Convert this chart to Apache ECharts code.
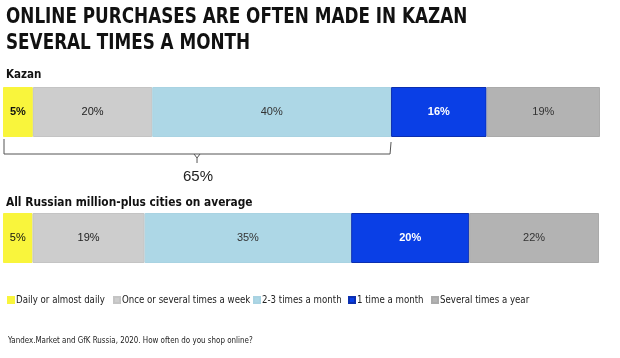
<!DOCTYPE html>
<html><head><meta charset="utf-8">
<script src="https://cdn.jsdelivr.net/npm/echarts@6/dist/echarts.min.js"></script>
<style>html,body{margin:0;padding:0;background:#fff}#c{width:620px;height:358px}</style>
</head><body><div id="c"></div>
<script>
var titleLines = ['ONLINE PURCHASES ARE OFTEN MADE IN KAZAN', 'SEVERAL TIMES A MONTH'];
var groups = ['Kazan', 'All Russian million-plus cities on average'];
var seriesNames = ['Daily or almost daily', 'Once or several times a week', '2-3 times a month', '1 time a month', 'Several times a year'];
var kazanValues = [5, 20, 40, 16, 19];
var russiaValues = [5, 19, 35, 20, 22];
var braceCount = 3; // first three categories summed under the brace
var footnote = 'Yandex.Market and GfK Russia, 2020. How often do you shop online?';

var colors = ['#f9f53c', '#cdcdcd', '#add7e6', '#0a3fe6', '#b3b3b3'];
var borderColors = ['#f9f53c', '#c4c4c4', '#a9d3e2', '#0b2fb0', '#aaaaaa'];
var labelColors = ['#111', '#222', '#333', '#fff', '#333'];
var legendLefts = [7, 113, 253, 348, 431];
var narrow = '"DejaVu Sans Condensed", "Liberation Sans", sans-serif';
var arial = '"Liberation Sans", Arial, sans-serif';

var chart = echarts.init(document.getElementById('c'), null, {renderer: 'canvas'});

var datasets = [kazanValues, russiaValues];
var series = [];
datasets.forEach(function (vals, gi) {
  vals.forEach(function (v, i) {
    series.push({
      name: seriesNames[i],
      type: 'bar',
      stack: 'g' + gi,
      xAxisIndex: gi,
      yAxisIndex: gi,
      barWidth: '100%',
      data: [v],
      itemStyle: {color: colors[i], borderColor: borderColors[i], borderWidth: 1},
      label: {
        show: true, position: 'inside', formatter: '{c}%',
        color: labelColors[i], fontFamily: arial, fontSize: 11,
        fontWeight: (i === 3 || (gi === 0 && i === 0)) ? 'bold' : 'normal'
      },
      emphasis: {disabled: true},
      animation: false
    });
  });
});

function sum(a) { return a.reduce(function (s, x) { return s + x; }, 0); }

var legends = seriesNames.map(function (n, i) {
  return {
    data: [n], left: legendLefts[i], top: 295, padding: 0, itemWidth: 6, itemHeight: 6,
    icon: 'rect', selectedMode: false,
    textStyle: {fontFamily: narrow, fontSize: 9.6, color: '#222', padding: [0, 0, 0, -3]}
  };
});

var option = {
  animation: false,
  legend: legends,
  grid: [
    {left: 3, right: 20, top: 87, height: 50},
    {left: 3, right: 21, top: 213, height: 50}
  ],
  xAxis: [
    {type: 'value', gridIndex: 0, min: 0, max: sum(kazanValues), show: false},
    {type: 'value', gridIndex: 1, min: 0, max: sum(russiaValues), show: false}
  ],
  yAxis: [
    {type: 'category', gridIndex: 0, data: [groups[0]], show: false},
    {type: 'category', gridIndex: 1, data: [groups[1]], show: false}
  ],
  series: series
};
chart.setOption(option);

// brace under the first three Kazan segments
var braceVal = sum(kazanValues.slice(0, braceCount));
var p0 = chart.convertToPixel({gridIndex: 0}, [0, 0]);
var p1 = chart.convertToPixel({gridIndex: 0}, [braceVal, 0]);
var x0 = p0[0] + 1, x1 = p1[0] - 1, xc = (x0 + x1) / 2;
var yTop = 142, yLine = 154;
var lineStyle = {stroke: '#555', lineWidth: 1, fill: null};
function txt(text, x, y, size, weight, sx, color, family) {
  return {type: 'text', x: x, y: y, scaleX: sx, silent: true,
    style: {text: text, fontFamily: family || narrow, fontSize: size, fontWeight: weight, fill: color || '#111',
      align: 'left', verticalAlign: 'middle'}};
}
chart.setOption({
  graphic: [
    txt(titleLines[0], 6, 17, 22, 'bold', 0.85),
    txt(titleLines[1], 6, 43, 22, 'bold', 0.85),
    txt(groups[0], 6, 75, 12, 'bold', 0.96),
    txt(groups[1], 6, 203, 12, 'bold', 0.985),
    txt(footnote, 8, 341, 9, 'normal', 0.88, '#222'),
    {type: 'polyline', shape: {points: [[x0, yTop - 3], [x0, yLine], [x1, yLine], [x1 + 1, yTop]]}, style: lineStyle, silent: true},
    {type: 'polyline', shape: {points: [[xc - 3, yLine], [xc, yLine + 4], [xc + 3, yLine]]}, style: lineStyle, silent: true},
    {type: 'line', shape: {x1: xc, y1: yLine + 4, x2: xc, y2: yLine + 9}, style: lineStyle, silent: true},
    {type: 'text', x: xc + 1, y: 177, silent: true,
     style: {text: braceVal + '%', fontFamily: arial, fontSize: 15, fill: '#222', align: 'center', verticalAlign: 'middle'}}
  ]
});
</script></body></html>
